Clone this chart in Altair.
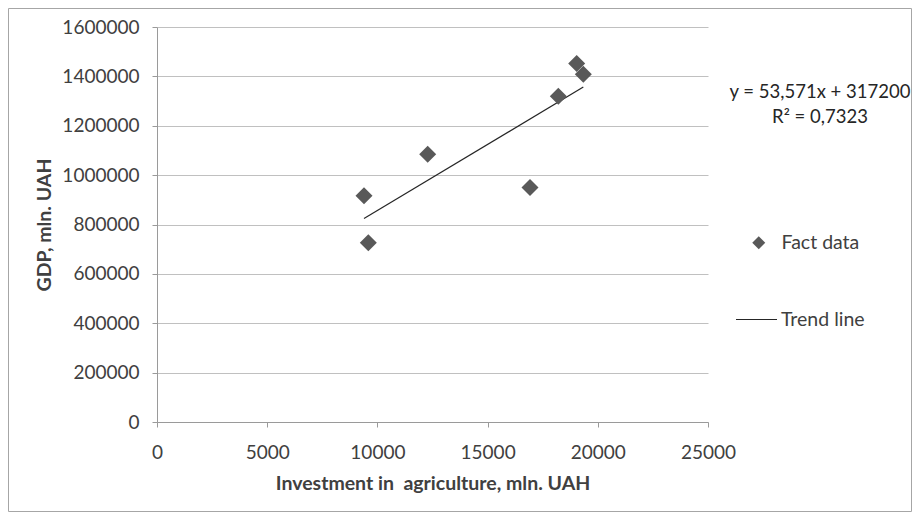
import altair as alt
import pandas as pd

# Values
invest = [9392, 9587, 12282, 16924, 18208, 19042, 19343]
gdp = [916000, 726000, 1085000, 950000, 1320000, 1452000, 1409000]
x_ticks = [0, 5000, 10000, 15000, 20000, 25000]
y_ticks = [0, 200000, 400000, 600000, 800000, 1000000, 1200000, 1400000, 1600000]
point_label = "Fact data"
line_label = "Trend line"
equation_text = "y = 53,571x + 317200\nR² = 0,7323"
x_title = "Investment in \u00a0agriculture, mln. UAH"
y_title = "GDP, mln. UAH"

df = pd.DataFrame({"invest": invest, "gdp": gdp, "pt": [point_label] * len(invest)})

FONT = "Lato"
TEXT = "#404040"
AXIS = "#9a9a9a"

x_enc = alt.X(
    "invest:Q",
    scale=alt.Scale(domain=[0, 25000], nice=False, zero=True),
    axis=alt.Axis(
        values=x_ticks, format="d", title=x_title, grid=False,
        labelFlush=False, tickSize=5, labelPadding=16, titlePadding=12,
    ),
)
y_enc = alt.Y(
    "gdp:Q",
    scale=alt.Scale(domain=[0, 1600000], nice=False),
    axis=alt.Axis(
        values=y_ticks, format="d", title=y_title, grid=True,
        labelFlush=False, tickSize=5, labelPadding=13, titlePadding=7,
    ),
)

base = alt.Chart(df)

points = base.mark_point(filled=True, shape="diamond", size=289, opacity=1, color="#595959").encode(
    x=x_enc,
    y=y_enc,
    shape=alt.Shape(
        "pt:N",
        scale=alt.Scale(domain=[point_label], range=["diamond"]),
        legend=alt.Legend(
            title=None, orient="none", legendX=592, legendY=206, padding=0,
            symbolSize=169, symbolFillColor="#595959", symbolStrokeWidth=0,
            symbolOpacity=1, labelOffset=13,
        ),
    ),
)

trend = (
    base.transform_regression("invest", "gdp")
    .transform_calculate(tl=f"'{line_label}'")
    .mark_line(strokeWidth=1.2)
    .encode(
        x="invest:Q",
        y="gdp:Q",
        stroke=alt.Stroke(
            "tl:N",
            scale=alt.Scale(domain=[line_label], range=["#262626"]),
            legend=alt.Legend(
                title=None, orient="none", legendX=578, legendY=271, padding=0,
                symbolType="stroke", symbolSize=1681, symbolStrokeWidth=1.2,
                labelOffset=3,
            ),
        ),
    )
)

eq = alt.Chart(pd.DataFrame({"t": [equation_text]})).mark_text(
    align="center", baseline="middle", fontSize=18.5, font=FONT, color="#262626",
    lineBreak="\n", lineHeight=25,
).encode(text="t:N", x=alt.value(663), y=alt.value(65))

frame = alt.Chart(pd.DataFrame({"a": [0]})).mark_rect(
    fillOpacity=0, stroke="#a6a6a6", strokeWidth=1
).encode(x=alt.value(-148.5), x2=alt.value(754.5), y=alt.value(-18.5), y2=alt.value(484.5))

chart = (
    alt.layer(frame, trend, points, eq)
    .resolve_scale(shape="independent", stroke="independent")
    .properties(
        width=551, height=395,
        autosize=alt.AutoSizeParams(type="none"),
        padding={"left": 149, "top": 19, "right": 204, "bottom": 90},
        background="white",
    )
    .configure_view(stroke=None)
    .configure_axis(
        labelFont=FONT, labelFontSize=19, labelColor=TEXT,
        titleFont=FONT, titleFontSize=19.5, titleFontWeight="bold", titleColor=TEXT,
        domainColor=AXIS, tickColor=AXIS, gridColor="#c0c0c0", gridWidth=1,
    )
    .configure_legend(labelFont=FONT, labelFontSize=19.5, labelColor=TEXT)
)

chart.save("out.html", embed_options={"renderer": "svg", "actions": False})
